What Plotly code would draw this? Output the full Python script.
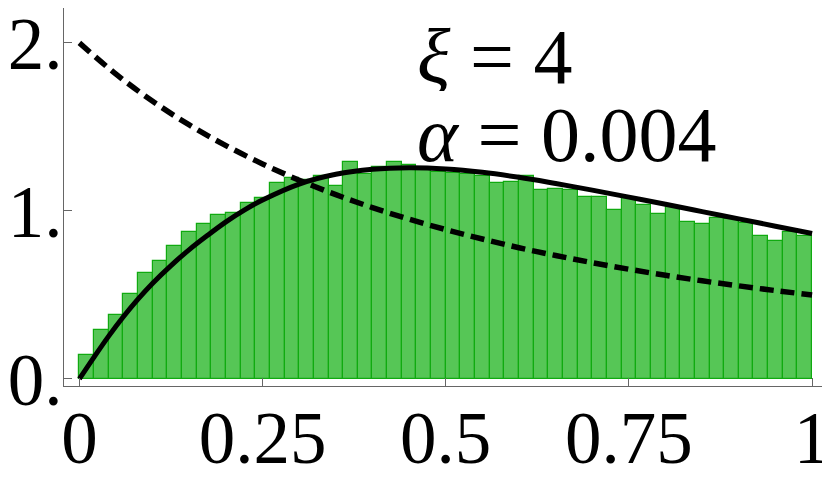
import plotly.graph_objects as go

# histogram: 50 bins on [0, 1], heights
n_bins = 50
bin_heights = [
    0.143, 0.292, 0.382, 0.504, 0.631, 0.702, 0.792, 0.875, 0.920, 0.973,
    0.985, 1.046, 1.079, 1.169, 1.198, 1.185, 1.210, 1.149, 1.294, 1.218,
    1.264, 1.290, 1.276, 1.250, 1.232, 1.226, 1.218, 1.208, 1.167, 1.174,
    1.208, 1.125, 1.133, 1.127, 1.083, 1.081, 1.004, 1.075, 1.036, 0.980,
    1.026, 0.936, 0.920, 0.960, 0.952, 0.930, 0.853, 0.823, 0.875, 0.849,
]
bin_centers = [(i + 0.5) / n_bins for i in range(n_bins)]

# solid curve
solid_x = [0, 0.02, 0.04, 0.06, 0.08, 0.10, 0.125, 0.15, 0.175, 0.20, 0.225,
           0.25, 0.30, 0.35, 0.40, 0.45, 0.50, 0.55, 0.60, 0.65, 0.70, 0.75,
           0.80, 0.85, 0.90, 0.95, 1.00]
solid_y = [0, 0.13, 0.255, 0.37, 0.475, 0.57, 0.675, 0.77, 0.855, 0.935, 1.005,
           1.065, 1.16, 1.218, 1.248, 1.257, 1.25, 1.23, 1.20, 1.163, 1.124, 1.082,
           1.04, 0.996, 0.953, 0.909, 0.866]

# dashed curve
dashed_x = [0, 0.05, 0.10, 0.15, 0.20, 0.25, 0.30, 0.35, 0.40, 0.45, 0.50,
            0.55, 0.60, 0.65, 0.70, 0.75, 0.80, 0.85, 0.90, 0.95, 1.00]
dashed_y = [2.0, 1.814, 1.653, 1.512, 1.389, 1.28, 1.183, 1.097, 1.02, 0.951, 0.889,
            0.833, 0.781, 0.735, 0.692, 0.653, 0.617, 0.584, 0.554, 0.526, 0.5]

x_ticks = [0, 0.25, 0.5, 0.75, 1]
x_ticktext = ["0", "0.25", "0.5", "0.75", "1"]
y_ticks = [0, 1, 2]
y_ticktext = ["0.", "1.", "2."]

FONT = "Liberation Serif"

fig = go.Figure()
fig.add_trace(
    go.Bar(
        x=bin_centers,
        y=bin_heights,
        width=1 / n_bins,
        marker=dict(color="#56C656", line=dict(color="#10AA10", width=1.2)),
        showlegend=False,
    )
)
fig.add_trace(
    go.Scatter(
        x=dashed_x,
        y=dashed_y,
        mode="lines",
        line=dict(color="black", width=5.5, dash="14px,7px", shape="spline"),
        showlegend=False,
    )
)
fig.add_trace(
    go.Scatter(
        x=solid_x,
        y=solid_y,
        mode="lines",
        line=dict(color="black", width=5, shape="spline"),
        showlegend=False,
    )
)

fig.add_annotation(
    x=0.458, y=1.92, xref="x", yref="y", xanchor="left", yanchor="middle",
    text="<i>ξ</i> = 4", showarrow=False, height=70,
    font=dict(family=FONT, size=78, color="black"),
)
fig.add_annotation(
    x=0.458, y=1.46, xref="x", yref="y", xanchor="left", yanchor="middle",
    text="<i>α</i> = 0.004", showarrow=False, height=70,
    font=dict(family=FONT, size=78, color="black"),
)

axis_common = dict(
    showgrid=False,
    zeroline=False,
    showline=True,
    linecolor="#666666",
    linewidth=1,
    mirror=True,
    ticks="inside",
    ticklen=8,
    tickcolor="#666666",
    automargin=False,
    ticklabeloverflow="allow",
    tickfont=dict(family=FONT, size=73, color="black"),
)

# the page body adds an 8px offset, so the figure is 8px smaller each way
fig.update_layout(
    width=822,
    height=471,
    margin=dict(l=56, r=4, t=0, b=93),
    paper_bgcolor="white",
    plot_bgcolor="white",
    bargap=0,
    xaxis=dict(range=[-0.021, 1.019], tickvals=x_ticks, ticktext=x_ticktext,
               ticklabelstandoff=-12, **axis_common),
    yaxis=dict(range=[-0.042, 2.208], tickvals=y_ticks, ticktext=y_ticktext,
               ticklabelstandoff=-14, **axis_common),
)

fig.write_html("out.html")
